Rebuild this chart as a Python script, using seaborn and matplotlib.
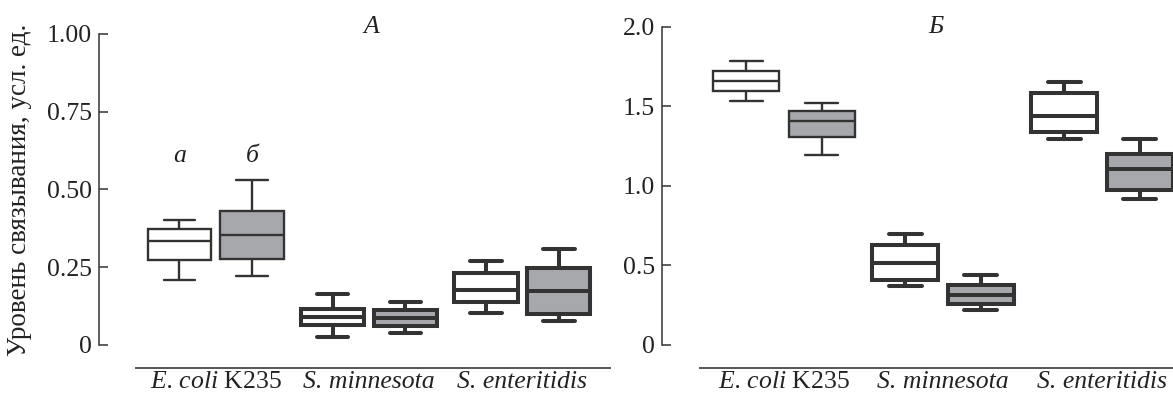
import matplotlib
matplotlib.use("Agg")
import matplotlib.pyplot as plt
import seaborn as sns
import pandas as pd

# ---- data (five-number summaries: whisker low, Q1, median, Q3, whisker high)
categories = ["E. coli K235", "S. minnesota", "S. enteritidis"]
series = ["а", "б"]
tick_labels = [r"E. coli $\mathrm{K235}$", "S. minnesota", "S. enteritidis"]

panel_a_white = [[0.209, 0.274, 0.333, 0.372, 0.402],
                 [0.025, 0.063, 0.089, 0.115, 0.163],
                 [0.104, 0.139, 0.177, 0.230, 0.271]]
panel_a_gray = [[0.223, 0.276, 0.353, 0.430, 0.530],
                [0.038, 0.062, 0.086, 0.112, 0.139],
                [0.078, 0.100, 0.174, 0.247, 0.309]]
panel_b_white = [[1.537, 1.600, 1.663, 1.721, 1.788],
                 [0.371, 0.409, 0.518, 0.629, 0.698],
                 [1.294, 1.338, 1.442, 1.583, 1.656]]
panel_b_gray = [[1.195, 1.306, 1.407, 1.474, 1.524],
                [0.220, 0.258, 0.314, 0.377, 0.440],
                [0.916, 0.975, 1.105, 1.199, 1.294]]

a_ticks = [0, 0.25, 0.50, 0.75, 1.00]
a_ticklabels = ["0", "0.25", "0.50", "0.75", "1.00"]
b_ticks = [0, 0.5, 1.0, 1.5, 2.0]
b_ticklabels = ["0", "0.5", "1.0", "1.5", "2.0"]

ylabel = "Уровень связывания, усл. ед."


def to_frame(white, gray):
    rows = []
    for cat, w, g in zip(categories, white, gray):
        for v in w:
            rows.append({"cat": cat, "ser": series[0], "val": v})
        for v in g:
            rows.append({"cat": cat, "ser": series[1], "val": v})
    return pd.DataFrame(rows)


sns.set_theme(style="ticks")
plt.rcParams["font.family"] = ["Liberation Serif", "DejaVu Serif"]
plt.rcParams["mathtext.fontset"] = "custom"
plt.rcParams["mathtext.rm"] = "Liberation Serif"
plt.rcParams["mathtext.it"] = "Liberation Serif:italic"

EDGE = "#333333"
GRAY = "#a7a8ac"
TXT = "#222222"
palette = {series[0]: "white", series[1]: GRAY}
FS = 18.5

fig = plt.figure(figsize=(11.73, 3.99), dpi=100)
W, H = 1173, 399
top_px, bot_px = 20, 368
axA = fig.add_axes([98.5 / W, (H - bot_px) / H, (610 - 98.5) / W, (bot_px - top_px) / H])
axB = fig.add_axes([662 / W, (H - bot_px) / H, (1173 - 662) / W, (bot_px - top_px) / H])

panels = [
    (axA, to_frame(panel_a_white, panel_a_gray), (-0.765, 2.572), (-0.074, 1.045), (-0.52, 2.572),
     a_ticks, a_ticklabels, (0, 1.0)),
    (axB, to_frame(panel_b_white, panel_b_gray), (-0.767, 2.447), (-0.1447, 2.044), (-0.528, 2.447),
     b_ticks, b_ticklabels, (0, 2.0)),
]

for ax, df, xl, yl, xb, yt, ytl, yb in panels:
    for cats, lw in ((categories[:1], 1.7), (categories[1:], 2.9)):
        sub = df[df["cat"].isin(cats)]
        sns.boxplot(data=sub, x="cat", y="val", hue="ser", order=categories, hue_order=series,
                    palette=palette, saturation=1, linecolor=EDGE, linewidth=lw,
                    whis=(0, 100), fliersize=0, width=0.95, gap=0.13, legend=False, ax=ax,
                    capprops={"solid_capstyle": "round"})
    ax.set_xlim(*xl)
    ax.set_ylim(*yl)
    ax.set_xlabel("")
    ax.set_ylabel("")
    ax.set_yticks(yt)
    ax.set_yticklabels(ytl, fontsize=FS)
    ax.set_xticks(range(len(categories)))
    ax.set_xticklabels(tick_labels, fontsize=FS, fontstyle="italic")
    ax.tick_params(axis="y", direction="in", length=6.5, width=1.1, color=EDGE, pad=5, labelcolor=TXT)
    ax.tick_params(axis="x", length=0, pad=2, labelcolor=TXT)
    for s in ("top", "right"):
        ax.spines[s].set_visible(False)
    ax.spines["left"].set_bounds(*yb)
    ax.spines["left"].set_color(EDGE)
    ax.spines["left"].set_linewidth(1.1)
    ax.spines["bottom"].set_bounds(*xb)
    ax.spines["bottom"].set_color("#555555")
    ax.spines["bottom"].set_linewidth(1.4)
    ax.set_facecolor("none")

# panel letters and series markers
axA.text(1.016, 1.003, "А", fontsize=FS, fontstyle="italic", ha="center", va="baseline", color=TXT)
axB.text(0.956, 1.962, "Б", fontsize=FS, fontstyle="italic", ha="center", va="baseline", color=TXT)
axA.text(-0.238, 0.588, "а", fontsize=FS, fontstyle="italic", ha="center", va="baseline", color=TXT)
axA.text(0.238, 0.588, "б", fontsize=FS, fontstyle="italic", ha="center", va="baseline", color=TXT)

fig.text(20 / W, 1 - 190 / H, ylabel, rotation=90, ha="center", va="center", fontsize=19.5, color=TXT)

fig.savefig("out.png", dpi=100, facecolor="white")
